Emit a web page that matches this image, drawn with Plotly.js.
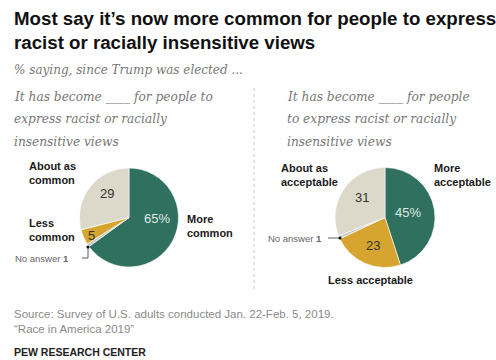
<!DOCTYPE html>
<html><head><meta charset="utf-8">
<script src="https://cdn.plot.ly/plotly-3.0.1.min.js"></script>
<style>html,body{margin:0;padding:0;background:#fff}#chart{width:496px;height:360px}</style>
</head><body><div id="chart"></div>
<script>
// Data
var commonLabels = ['More common', 'No answer', 'Less common', 'About as common'];
var commonValues = [65, 1, 5, 29];
var acceptLabels = ['More acceptable', 'Less acceptable', 'No answer', 'About as acceptable'];
var acceptValues = [45, 23, 1, 31];
var title = 'Most say it\u2019s now more common for people to express<br>racist or racially insensitive views';
var subtitle = '% saying, since Trump was elected ...';
var leftQuestion = ['It has become ____ for people to', 'express racist or racially', 'insensitive views'];
var rightQuestion = ['It has become ____ for people', 'to express racist or racially', 'insensitive views'];
var sourceText = 'Source: Survey of U.S. adults conducted Jan. 22-Feb. 5, 2019.<br>\u201cRace in America 2019\u201d';
var brand = 'PEW RESEARCH CENTER';

var W = 496, H = 360;
function px(x){return x / W;}
function py(y){return 1 - y / H;}

var GREEN = '#30705e', GOLD = '#d5a530', BEIGE = '#dcd9ca', NA = '#c9c9c9';
var SANS = 'Liberation Sans, Arial, sans-serif';
var SERIF = 'DejaVu Serif, Georgia, serif';

function pieDomain(cx, cy, r){
  return {x:[px(cx - r), px(cx + r)], y:[py(cy + r), py(cy - r)]};
}

var traces = [
  {type:'pie', labels:commonLabels, values:commonValues, sort:false, direction:'clockwise', rotation:0,
   marker:{colors:[GREEN, NA, GOLD, BEIGE], line:{color:'#ffffff', width:0.6}},
   textinfo:'none', hoverinfo:'label+value', showlegend:false, domain:pieDomain(129, 217.5, 49.5)},
  {type:'pie', labels:acceptLabels, values:acceptValues, sort:false, direction:'clockwise', rotation:0,
   marker:{colors:[GREEN, GOLD, NA, BEIGE], line:{color:'#ffffff', width:0.6}},
   textinfo:'none', hoverinfo:'label+value', showlegend:false, domain:pieDomain(385, 217.5, 50)}
];

function ann(text, x, y, opts){
  var a = {text:text, x:px(x), y:py(y), xref:'paper', yref:'paper', showarrow:false,
           xanchor:'left', yanchor:'middle', align:'left',
           font:{family:SANS, size:12, color:'#222'}};
  for (var k in opts) a[k] = opts[k];
  return a;
}
var bold = {family:SANS, size:11, color:'#1a1a1a'};
function B(t){return '<b>' + t + '</b>';}
var qFont = {family:SERIF, size:12.2, color:'#777'};

var annotations = [
  ann(B(title), 12, 30, {font:{family:SANS, size:18.7, color:'#111'}}),
  ann('<i>' + subtitle + '</i>', 12, 70, {font:{family:SERIF, size:12, color:'#777'}}),
  // left pie labels
  ann(B('About as<br>common'), 27, 173, {font:bold}),
  ann(B('Less<br>common'), 27, 230, {font:bold}),
  ann(B('More<br>common'), 185, 226, {font:bold}),
  ann('No answer <b>' + commonValues[1] + '</b>', 13, 258, {font:{family:SANS, size:9.5, color:'#666'}}),
  ann(commonValues[0] + '%', 157, 219, {xanchor:'center', font:{family:SANS, size:13, color:'#dfe9e5'}}),
  ann(String(commonValues[3]), 107, 193, {xanchor:'center', font:{family:SANS, size:13, color:'#333'}}),
  ann(String(commonValues[2]), 91, 235, {xanchor:'center', font:{family:SANS, size:13, color:'#333'}}),
  // right pie labels
  ann(B('About as<br>acceptable'), 279, 175, {font:bold}),
  ann(B('More<br>acceptable'), 432, 175, {font:bold}),
  ann(B('Less acceptable'), 370, 280, {xanchor:'center', font:bold}),
  ann('No answer <b>' + acceptValues[2] + '</b>', 266, 238, {font:{family:SANS, size:9.5, color:'#666'}}),
  ann(acceptValues[0] + '%', 408, 212, {xanchor:'center', font:{family:SANS, size:13, color:'#dfe9e5'}}),
  ann(String(acceptValues[3]), 362, 197, {xanchor:'center', font:{family:SANS, size:13, color:'#333'}}),
  ann(String(acceptValues[1]), 373, 245, {xanchor:'center', font:{family:SANS, size:13, color:'#333'}}),
  // footer
  ann(sourceText, 12, 321.5, {font:{family:SANS, size:11.5, color:'#8a8a8a'}}),
  ann(B(brand), 12, 352, {font:{family:SANS, size:10.5, color:'#222'}})
];
leftQuestion.forEach(function(t, i){ annotations.push(ann('<i>' + t + '</i>', 12, 97 + 22.5 * i, {font:qFont})); });
rightQuestion.forEach(function(t, i){ annotations.push(ann('<i>' + t + '</i>', 285, 97 + 22.5 * i, {font:qFont})); });

function line(x0, y0, x1, y1, color, width, dash){
  return {type:'line', xref:'paper', yref:'paper', x0:px(x0), y0:py(y0), x1:px(x1), y1:py(y1),
          line:{color:color, width:width, dash:dash || 'solid'}};
}
function dot(x, y, r){
  return {type:'circle', xref:'paper', yref:'paper', x0:px(x - r), x1:px(x + r), y0:py(y + r), y1:py(y - r),
          fillcolor:'#111', line:{width:0}};
}
var shapes = [
  line(254, 88, 254, 292, '#c8c8c8', 1, 'dot'),
  line(88, 248, 88, 258, '#333', 0.8),
  line(88, 258, 82, 258, '#333', 0.8),
  dot(88, 247, 1.6),
  line(328, 238, 339, 238, '#333', 0.8),
  dot(340, 238, 1.6)
];

var layout = {width:W, height:H, margin:{l:0, r:0, t:0, b:0}, paper_bgcolor:'#fff', plot_bgcolor:'#fff',
  annotations:annotations, shapes:shapes, showlegend:false};
Plotly.newPlot('chart', traces, layout, {displayModeBar:false, staticPlot:true});
</script></body></html>
